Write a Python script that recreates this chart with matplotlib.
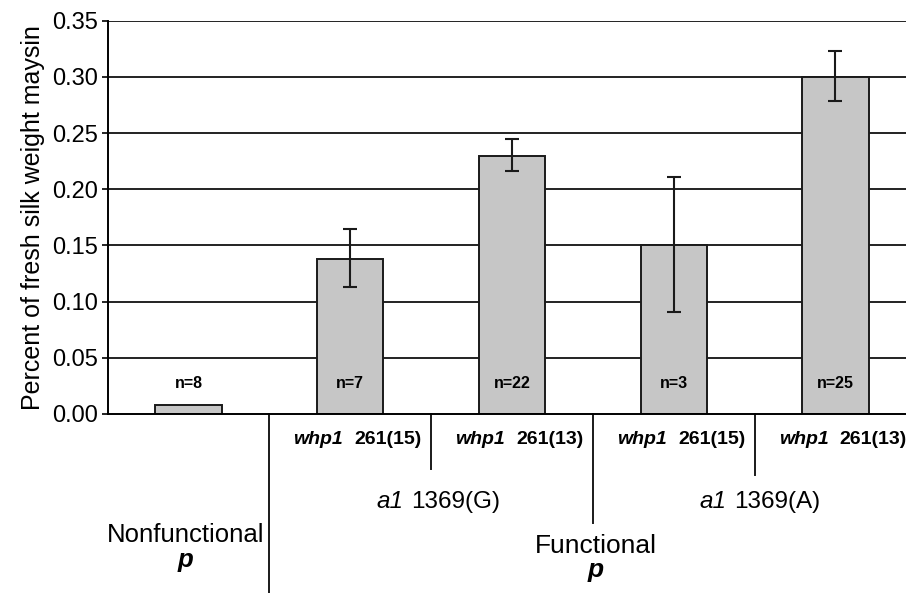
import numpy as np
from matplotlib import pyplot as plt

plt.rcParams['font.family'] = ['Liberation Sans', 'DejaVu Sans']

# data
means = [0.008, 0.138, 0.230, 0.150, 0.300]
err_low = [0.008, 0.113, 0.216, 0.091, 0.279]
err_high = [0.008, 0.165, 0.245, 0.211, 0.323]
n_labels = ["n=8", "n=7", "n=22", "n=3", "n=25"]
whp1_labels = ["", "261(15)", "261(13)", "261(15)", "261(13)"]
a1_labels = ["1369(G)", "1369(A)"]
p_labels = ["Nonfunctional", "Functional"]
yticks = [0.00, 0.05, 0.10, 0.15, 0.20, 0.25, 0.30, 0.35]

x = np.arange(len(means))
means = np.array(means)
lo = means - np.array(err_low)
hi = np.array(err_high) - means

fig = plt.figure(figsize=(9.06, 5.93), dpi=100)
ax = fig.add_axes([0.1188, 0.302, 0.8926, 0.663])

for t in yticks[1:]:
    ax.axhline(t, color='#222222', lw=1.4, zorder=1)

ax.bar(x, means, width=0.41, color='#c6c6c6', edgecolor='#1a1a1a', lw=1.4, zorder=2)
# first bar has no error bar
ax.errorbar(x[1:], means[1:], yerr=[lo[1:], hi[1:]], fmt='none',
            ecolor='#1a1a1a', elinewidth=1.5, capsize=5, capthick=1.5, zorder=3)

for i, lab in enumerate(n_labels):
    ax.text(x[i], 0.0275, lab, ha='center', va='center', fontsize=11.5,
            fontweight='bold', zorder=4)

ax.set_xlim(-0.5, 4.5)
ax.set_ylim(0, 0.35)
ax.set_yticks(yticks)
ax.set_yticklabels(["%.2f" % t for t in yticks], fontsize=17)
ax.tick_params(axis='y', direction='out', length=4, width=1.2, pad=3)
ax.set_xticks([])
for s in ['top', 'right']:
    ax.spines[s].set_visible(False)
ax.spines['left'].set_linewidth(1.4)
ax.spines['bottom'].set_linewidth(1.4)
ax.set_ylabel("Percent of fresh silk weight maysin", fontsize=18, labelpad=5)

# category labels below the axis
trans = ax.get_xaxis_transform()
seps = [(0.5, -0.46), (1.5, -0.14), (2.5, -0.277), (3.5, -0.155)]
for sx, sy in seps:
    ax.plot([sx, sx], [0, sy], color='#1a1a1a', lw=1.4, transform=trans, clip_on=False)

for i in range(1, 5):
    ax.annotate("whp1", (x[i], -0.066), xycoords=trans, xytext=(-5, 0),
                textcoords='offset points', ha='right', va='center', fontsize=14,
                fontweight='bold', fontstyle='italic')
    ax.annotate(whp1_labels[i], (x[i], -0.066), xycoords=trans, xytext=(3, 0),
                textcoords='offset points', ha='left', va='center', fontsize=14,
                fontweight='bold')

for j, lab in enumerate(a1_labels):
    gx = 1.5 + 2 * j
    ax.annotate("a1", (gx, -0.224), xycoords=trans, xytext=(-20, 0),
                textcoords='offset points', ha='right', va='center', fontsize=17.5,
                fontstyle='italic')
    ax.annotate(lab, (gx, -0.224), xycoords=trans, xytext=(-14.5, 0),
                textcoords='offset points', ha='left', va='center', fontsize=17.5)

ax.text(-0.02, -0.308, p_labels[0], transform=trans, ha='center', va='center', fontsize=18.5)
ax.text(-0.02, -0.371, "p", transform=trans, ha='center', va='center', fontsize=18.5,
        fontstyle='italic', fontweight='bold')
ax.text(2.52, -0.336, p_labels[1], transform=trans, ha='center', va='center', fontsize=19)
ax.text(2.52, -0.397, "p", transform=trans, ha='center', va='center', fontsize=19,
        fontstyle='italic', fontweight='bold')

plt.savefig("out.png", dpi=100)
